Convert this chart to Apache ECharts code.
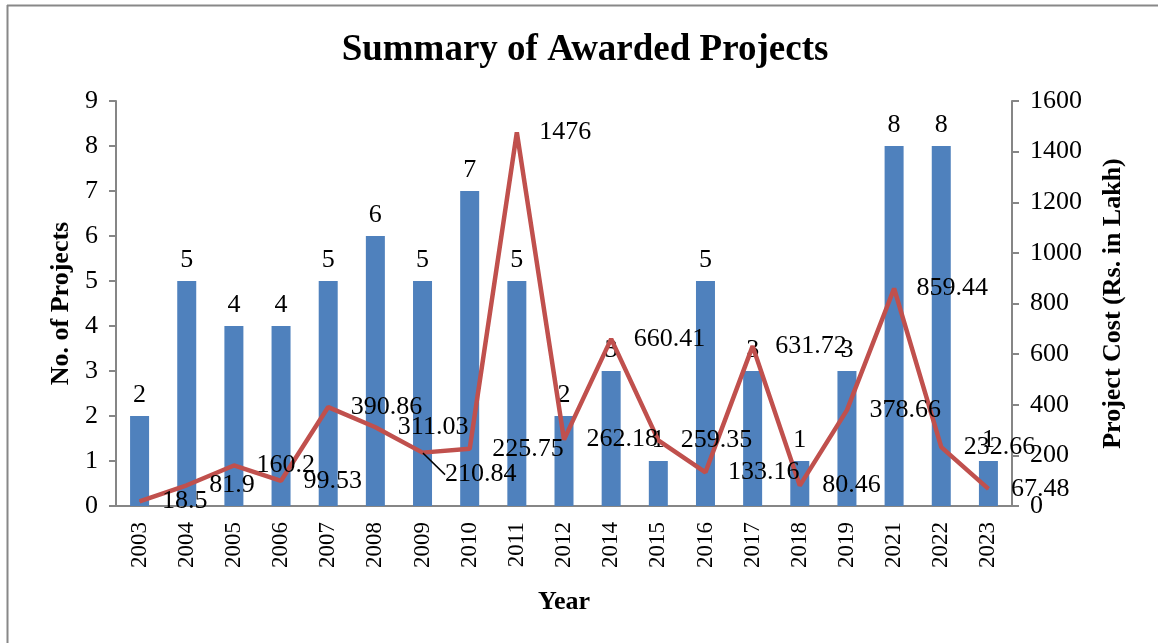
<!DOCTYPE html>
<html>
<head>
<meta charset="utf-8">
<script src="https://cdn.jsdelivr.net/npm/echarts@6/dist/echarts.min.js"></script>
<style>
  html, body { margin: 0; padding: 0; background: #fff; }
</style>
</head>
<body>
<div id="chart" style="width: 1158px; height: 643px;"></div>
<script>
// categories (years)
const years = ['2003', '2004', '2005', '2006', '2007', '2008', '2009', '2010', '2011', '2012',
  '2014', '2015', '2016', '2017', '2018', '2019', '2021', '2022', '2023'];
// no. of projects per year
const projectCount = [2, 5, 4, 4, 5, 6, 5, 7, 5, 2, 3, 1, 5, 3, 1, 3, 8, 8, 1];
// project cost (Rs. in Lakh)
const projectCost = [18.5, 81.9, 160.2, 99.53, 390.86, 311.03, 210.84, 225.75, 1476, 262.18,
  660.41, 259.35, 133.16, 631.72, 80.46, 378.66, 859.44, 232.66, 67.48];

const serif = '"Liberation Serif", "Times New Roman", serif';
const axisGray = '#868686';
const movedLabel = 6; // 2009 label sits lower with a leader line

const chart = echarts.init(document.getElementById('chart'));

const costData = projectCost.map((v, i) => i === movedLabel
  ? { value: v, labelLine: { show: true, lineStyle: { color: '#000', width: 1.5 } } }
  : v);

const option = {
  backgroundColor: '#fff',
  animation: false,
  title: {
    text: 'Summary of Awarded Projects',
    left: 580,
    textAlign: 'center',
    top: 27,
    textStyle: { fontFamily: serif, fontSize: 37, fontWeight: 'bold', color: '#000' }
  },
  graphic: [
    { type: 'line', shape: { x1: 7, y1: 5.5, x2: 1158, y2: 5.5 }, style: { stroke: '#888', lineWidth: 2 } },
    { type: 'line', shape: { x1: 7.5, y1: 5, x2: 7.5, y2: 643 }, style: { stroke: '#888', lineWidth: 2 } }
  ],
  grid: { left: 116, right: 146, top: 101, bottom: 137 },
  xAxis: {
    type: 'category',
    data: years,
    name: 'Year',
    nameLocation: 'middle',
    nameGap: 83,
    nameTextStyle: { fontFamily: serif, fontSize: 26, fontWeight: 'bold', color: '#000' },
    axisLine: { lineStyle: { color: axisGray, width: 2 } },
    axisTick: { show: false },
    axisLabel: { rotate: 90, fontFamily: serif, fontSize: 23, color: '#000', margin: 16, interval: 0 }
  },
  yAxis: [
    {
      type: 'value',
      min: 0, max: 9, interval: 1,
      name: 'No. of Projects',
      nameLocation: 'middle',
      nameGap: 42,
      nameTextStyle: { fontFamily: serif, fontSize: 26, fontWeight: 'bold', color: '#000' },
      axisLine: { show: true, lineStyle: { color: axisGray, width: 2 } },
      axisTick: { show: true, length: 7, lineStyle: { color: axisGray, width: 2 } },
      splitLine: { show: false },
      axisLabel: { fontFamily: serif, fontSize: 26, color: '#000', margin: 18 }
    },
    {
      type: 'value',
      min: 0, max: 1600, interval: 200,
      name: 'Project Cost (Rs. in Lakh)',
      nameLocation: 'middle',
      nameGap: 88,
      nameRotate: 90,
      nameTextStyle: { fontFamily: serif, fontSize: 26, fontWeight: 'bold', color: '#000' },
      axisLine: { show: true, lineStyle: { color: axisGray, width: 2 } },
      axisTick: { show: true, length: 7, lineStyle: { color: axisGray, width: 2 } },
      splitLine: { show: false },
      axisLabel: { fontFamily: serif, fontSize: 26, color: '#000', margin: 18, formatter: (v) => String(v) }
    }
  ],
  series: [
    {
      type: 'bar',
      name: 'No. of Projects',
      yAxisIndex: 0,
      data: projectCount,
      barWidth: 19,
      itemStyle: { color: '#4F81BD' },
      label: { show: true, position: 'top', distance: 8, fontFamily: serif, fontSize: 26, color: '#000' }
    },
    {
      type: 'line',
      name: 'Project Cost',
      yAxisIndex: 1,
      data: costData,
      symbol: 'circle',
      symbolSize: 1,
      showSymbol: true,
      lineStyle: { color: '#C0504D', width: 4.5 },
      itemStyle: { color: '#C0504D' },
      label: {
        show: true, position: 'right', distance: 22, offset: [0, 7],
        fontFamily: serif, fontSize: 26, color: '#000'
      },
      labelLayout: (p) => p.dataIndex === movedLabel
        ? { dy: 22, hideOverlap: false }
        : { hideOverlap: false }
    }
  ]
};

chart.setOption(option);
</script>
</body>
</html>
